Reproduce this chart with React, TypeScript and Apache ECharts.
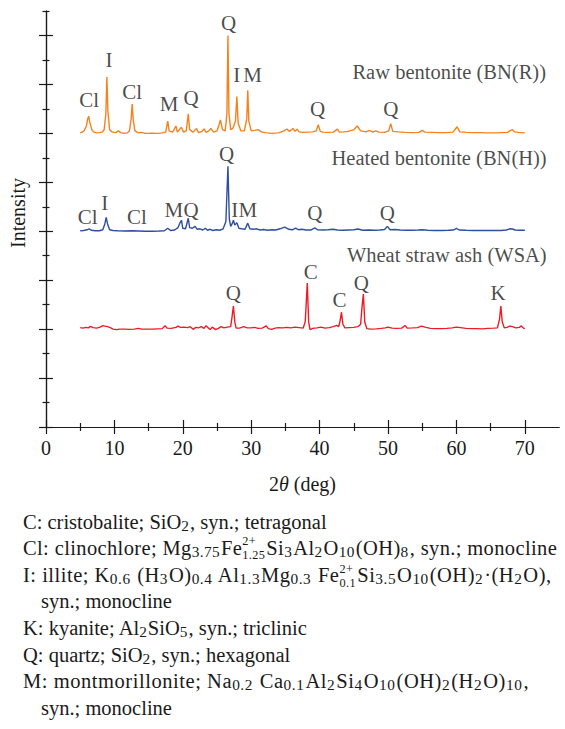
import React, { useEffect, useRef } from "react";
import * as echarts from "echarts";

// ---- data: [2θ (deg), intensity (a.u., offset)] ----
const rawBentonite: number[][] = [
  [5.0,12.02],[5.3,12.05],[5.6,12.12],[5.9,12.3],[6.1,12.6],[6.25,12.7],[6.4,12.45],[6.7,12.15],[7.0,12.05],[7.4,12.02],
  [7.8,12.03],[8.2,12.05],[8.5,12.15],[8.75,12.8],[8.9,14.3],[9.05,12.9],[9.3,12.15],[9.7,12.05],[10.2,12.03],[10.6,12.1],
  [10.9,12.03],[11.4,12.0],[11.9,12.02],[12.2,12.1],[12.45,12.6],[12.6,13.2],[12.75,12.55],[13.0,12.1],[13.5,12.02],[14.0,12.04],
  [14.5,12.0],[15.0,12.0],[15.5,12.01],[16.0,12.0],[16.5,12.0],[17.0,12.02],[17.5,12.05],[17.8,12.5],[18.0,12.1],[18.5,12.05],
  [19.0,12.3],[19.2,12.05],[19.8,12.25],[20.1,12.05],[20.5,12.1],[20.8,12.8],[21.0,12.15],[21.5,12.05],[22.0,12.2],[22.3,12.03],
  [22.8,12.08],[23.1,12.18],[23.4,12.04],[23.8,12.1],[24.1,12.2],[24.5,12.05],[25.0,12.1],[25.3,12.35],[25.5,12.55],[25.8,12.15],
  [26.2,12.1],[26.45,12.8],[26.6,16.0],[26.75,12.8],[27.0,12.15],[27.3,12.2],[27.7,12.5],[27.9,13.5],[28.1,12.4],[28.5,12.1],
  [29.0,12.1],[29.35,12.6],[29.5,13.76],[29.65,12.5],[30.0,12.1],[30.5,12.12],[31.0,12.15],[31.5,12.06],[32.0,12.03],[33.0,12.0],
  [34.0,12.02],[34.8,12.1],[35.2,12.18],[35.6,12.08],[36.1,12.2],[36.4,12.08],[36.7,12.17],[37.0,12.06],[37.5,12.04],[38.2,12.05],
  [39.0,12.06],[39.5,12.1],[39.8,12.35],[40.1,12.08],[40.5,12.05],[41.2,12.04],[42.0,12.05],[42.6,12.17],[42.9,12.05],[43.5,12.06],
  [44.2,12.08],[45.0,12.15],[45.5,12.3],[46.0,12.1],[46.8,12.06],[47.3,12.12],[47.8,12.05],[48.2,12.1],[48.7,12.05],[49.5,12.04],
  [50.1,12.1],[50.4,12.4],[50.7,12.08],[51.5,12.06],[52.5,12.04],[53.5,12.03],[54.5,12.04],[55.0,12.12],[55.4,12.05],[56.5,12.04],
  [57.5,12.03],[58.5,12.03],[59.5,12.05],[60.1,12.27],[60.5,12.06],[61.5,12.04],[62.5,12.03],[63.5,12.03],[64.5,12.02],[65.5,12.02],
  [66.5,12.03],[67.5,12.04],[67.9,12.12],[68.2,12.15],[68.5,12.06],[69.0,12.04],[69.5,12.03],[70.0,12.02]
];

const heatedBentonite: number[][] = [
  [5.0,8.02],[5.5,8.03],[6.0,8.06],[6.3,8.1],[6.6,8.04],[7.2,8.02],[7.8,8.02],[8.3,8.06],[8.6,8.3],[8.8,8.57],
  [9.0,8.3],[9.3,8.06],[9.8,8.03],[10.5,8.02],[11.5,8.01],[12.5,8.02],[13.5,8.01],[14.5,8.0],[15.5,8.0],[16.5,8.01],
  [17.3,8.02],[17.8,8.12],[18.2,8.03],[18.8,8.05],[19.3,8.15],[19.6,8.35],[19.8,8.45],[20.0,8.12],[20.4,8.1],[20.8,8.53],
  [21.0,8.15],[21.4,8.12],[21.8,8.2],[22.1,8.08],[22.5,8.1],[22.9,8.05],[23.3,8.12],[23.6,8.04],[24.0,8.08],[24.4,8.03],
  [24.9,8.06],[25.4,8.04],[25.9,8.1],[26.3,8.4],[26.6,10.65],[26.8,8.5],[27.0,8.2],[27.2,8.3],[27.4,8.45],[27.6,8.25],
  [27.9,8.35],[28.2,8.12],[28.6,8.1],[29.1,8.08],[29.5,8.33],[29.8,8.1],[30.3,8.08],[30.8,8.1],[31.3,8.05],[31.8,8.07],
  [32.4,8.04],[33.0,8.06],[33.6,8.05],[34.2,8.1],[34.9,8.17],[35.5,8.08],[36.0,8.06],[36.5,8.13],[36.9,8.06],[37.4,8.08],
  [38.0,8.05],[38.7,8.05],[39.3,8.14],[39.7,8.06],[40.5,8.05],[41.2,8.06],[42.0,8.08],[42.6,8.05],[43.4,8.04],[44.2,8.05],
  [45.0,8.06],[45.6,8.09],[46.3,8.04],[47.2,8.05],[48.0,8.04],[48.8,8.05],[49.5,8.07],[49.9,8.2],[50.3,8.06],[51.0,8.07],
  [51.8,8.05],[52.6,8.04],[53.5,8.04],[54.4,8.05],[55.0,8.06],[55.8,8.04],[56.8,8.03],[57.8,8.03],[58.8,8.04],[59.6,8.05],
  [60.0,8.12],[60.4,8.05],[61.4,8.04],[62.5,8.03],[63.5,8.03],[64.5,8.03],[65.5,8.03],[66.5,8.03],[67.3,8.05],[67.8,8.1],
  [68.2,8.09],[68.6,8.05],[69.2,8.04],[70.0,8.04]
];

const wheatStrawAsh: number[][] = [
  [5.0,4.06],[5.4,4.04],[5.8,4.07],[6.2,4.05],[6.5,4.11],[6.9,4.06],[7.4,4.04],[7.9,4.08],[8.3,4.14],[8.6,4.12],
  [9.0,4.1],[9.4,4.06],[9.8,4.0],[10.3,3.98],[10.8,4.0],[11.5,4.0],[12.2,3.99],[12.9,4.0],[13.5,4.03],[14.0,4.0],
  [14.8,4.0],[15.6,4.0],[16.3,4.01],[17.0,4.02],[17.4,4.14],[17.7,4.04],[18.3,4.03],[19.0,4.07],[19.3,4.12],[19.7,4.07],
  [20.2,4.08],[20.7,4.06],[21.1,4.1],[21.5,3.99],[21.9,4.07],[22.3,4.05],[22.7,4.1],[23.1,4.03],[23.4,4.14],[23.7,4.06],
  [24.0,3.98],[24.3,4.08],[24.8,3.98],[25.2,4.03],[25.6,4.1],[26.0,4.05],[26.5,4.08],[27.0,4.1],[27.2,4.5],[27.4,4.94],
  [27.6,4.3],[27.8,4.04],[28.3,4.04],[28.9,4.1],[29.4,4.05],[29.9,4.05],[30.5,4.07],[31.0,4.03],[31.6,4.04],[32.2,4.13],
  [32.5,4.02],[33.0,3.99],[33.5,4.04],[34.0,4.06],[34.6,4.05],[35.2,4.07],[35.8,4.05],[36.4,4.08],[37.0,4.06],[37.6,4.04],
  [37.9,4.3],[38.2,5.88],[38.4,4.3],[38.6,3.98],[39.0,4.03],[39.6,4.05],[40.2,4.08],[40.8,4.04],[41.4,4.06],[42.0,4.1],
  [42.5,4.15],[42.8,4.1],[43.0,4.35],[43.2,4.69],[43.4,4.2],[43.7,4.05],[44.3,4.06],[45.0,4.07],[45.6,4.1],[46.0,4.2],
  [46.2,4.9],[46.4,5.43],[46.6,4.3],[46.9,4.02],[47.5,4.0],[48.3,4.01],[49.0,4.03],[49.6,4.05],[50.0,4.08],[50.6,4.04],
  [51.3,4.03],[52.0,4.04],[52.5,4.15],[52.8,4.04],[53.6,4.05],[54.3,4.06],[54.9,4.12],[55.4,4.08],[56.2,4.03],[57.0,4.02],
  [57.8,4.02],[58.6,4.03],[59.4,4.05],[60.0,4.08],[60.6,4.06],[61.4,4.03],[62.2,4.02],[63.0,4.02],[63.8,4.01],[64.6,4.03],
  [65.4,4.04],[66.0,4.05],[66.3,4.4],[66.5,4.94],[66.7,4.3],[67.0,4.05],[67.4,4.07],[67.8,4.12],[68.2,4.1],[68.7,4.05],
  [69.2,4.07],[69.5,4.13],[69.8,4.04],[70.0,4.02]
];

// peak labels: [2θ, intensity, phase]
const rawPeakLabels: (number | string)[][] = [
  [6.3,13.35,"Cl"],[9.2,14.98,"I"],[12.6,13.7,"Cl"],[18.0,13.2,"M"],[21.2,13.45,"Q"],
  [26.7,16.5,"Q"],[27.9,14.37,"I"],[30.2,14.37,"M"],[39.7,12.98,"Q"],[50.4,12.98,"Q"]
];
const heatedPeakLabels: (number | string)[][] = [
  [6.1,8.6,"Cl"],[8.6,9.14,"I"],[13.3,8.57,"Cl"],[18.7,8.86,"M"],[21.2,8.86,"Q"],
  [26.4,11.14,"Q"],[27.6,8.86,"I"],[29.5,8.86,"M"],[39.3,8.73,"Q"],[49.9,8.73,"Q"]
];
const ashPeakLabels: (number | string)[][] = [
  [27.4,5.47,"Q"],[38.7,6.33,"C"],[42.9,5.18,"C"],[46.1,5.88,"Q"],[66.1,5.47,"K"]
];
const sampleNames: (number | string)[][] = [
  [73.1,14.49,"Raw bentonite (BN(R))"],
  [73.2,10.98,"Heated bentonite (BN(H))"],
  [73.2,7.02,"Wheat straw ash (WSA)"]
];

const xMajorTicks = [0, 10, 20, 30, 40, 50, 60, 70];
const xMinorTicks = [5, 15, 25, 35, 45, 55, 65];
const yMajorTicks = [0, 2, 4, 6, 8, 10, 12, 14, 16];
const yMinorTicks = [1, 3, 5, 7, 9, 11, 13, 15, 17];

const FONT = "'Liberation Serif', 'DejaVu Serif', serif";
const INK = "#1a1a1a";

const Sub = ({ c }: { c: string }) => (
  <span style={{ fontSize: "0.75em", position: "relative", top: "0.15em", marginRight: "1px" }}>{c}</span>
);
const Stack = ({ up, down }: { up: string; down: string }) => (
  <span
    style={{
      display: "inline-flex",
      flexDirection: "column",
      fontSize: "0.6em",
      lineHeight: 1.13,
      verticalAlign: "0.75em",
      marginRight: "1px",
    }}
  >
    <span>{up}</span>
    <span>{down}</span>
  </span>
);

const legendTops = [509, 534.5, 562, 588, 615, 641.5, 668, 694.5];

export default function App() {
  const ref = useRef<HTMLDivElement>(null);

  useEffect(() => {
    if (!ref.current) return;
    const chart = echarts.init(ref.current, undefined, { renderer: "svg" });

    const xBase = { type: "value" as const, min: 0, max: 75, splitLine: { show: false } };
    const yBase = { type: "value" as const, min: 0, max: 17, splitLine: { show: false } };
    const line = { show: true, lineStyle: { color: INK, width: 1.2 } };

    const labelSeries = (data: (number | string)[][], extra: any = {}) => ({
      type: "scatter",
      data,
      symbolSize: 0,
      silent: true,
      z: 5,
      label: {
        show: true,
        position: "inside",
        formatter: (p: any) => p.value[2],
        fontFamily: FONT,
        fontSize: 21,
        color: INK,
        ...extra,
      },
    });

    chart.setOption({
      animation: false,
      backgroundColor: "#ffffff",
      textStyle: { fontFamily: FONT },
      grid: { left: 46, right: 6, top: 11, bottom: 73 },
      xAxis: [
        {
          ...xBase,
          position: "bottom",
          axisLine: line,
          axisTick: { show: true, length: 7, customValues: xMajorTicks, lineStyle: { color: INK, width: 1.2 } },
          axisLabel: { show: true, customValues: xMajorTicks, fontSize: 20, color: INK, margin: 11, fontFamily: FONT },
          name: "{n|2}{i|θ}{n| (deg)}",
          nameLocation: "middle",
          nameGap: 47,
          nameTextStyle: {
            rich: {
              n: { fontSize: 20, color: INK, fontFamily: FONT },
              i: { fontSize: 20, color: INK, fontFamily: FONT, fontStyle: "italic" },
            },
          },
        },
        {
          ...xBase,
          position: "bottom",
          axisLine: { show: false },
          axisTick: { show: true, length: 4, customValues: xMinorTicks, lineStyle: { color: INK, width: 1.2 } },
          axisLabel: { show: false },
        },
        {
          ...xBase,
          position: "top",
          axisLine: line,
          axisTick: { show: true, length: 7, customValues: xMajorTicks, lineStyle: { color: INK, width: 1.2 } },
          axisLabel: { show: false },
        },
        {
          ...xBase,
          position: "top",
          axisLine: { show: false },
          axisTick: { show: true, length: 4, customValues: xMinorTicks, lineStyle: { color: INK, width: 1.2 } },
          axisLabel: { show: false },
        },
      ],
      yAxis: [
        {
          ...yBase,
          position: "left",
          axisLine: line,
          axisTick: { show: true, length: 7, customValues: yMajorTicks, lineStyle: { color: INK, width: 1.2 } },
          axisLabel: { show: false },
        },
        {
          ...yBase,
          position: "left",
          axisLine: { show: false },
          axisTick: { show: true, length: 3.5, customValues: yMinorTicks, lineStyle: { color: INK, width: 1.2 } },
          axisLabel: { show: false },
        },
        {
          ...yBase,
          position: "right",
          axisLine: line,
          axisTick: { show: true, length: 7, customValues: yMajorTicks, lineStyle: { color: INK, width: 1.2 } },
          axisLabel: { show: false },
        },
        {
          ...yBase,
          position: "right",
          axisLine: { show: false },
          axisTick: { show: true, length: 3.5, customValues: yMinorTicks, lineStyle: { color: INK, width: 1.2 } },
          axisLabel: { show: false },
        },
      ],
      graphic: [
        {
          type: "text",
          x: 18,
          y: 213,
          rotation: Math.PI / 2,
          style: {
            text: "Intensity",
            fontFamily: FONT,
            fontSize: 20,
            fill: INK,
            align: "center",
            verticalAlign: "middle",
          },
        },
      ],
      series: [
        {
          name: "Raw bentonite (BN(R))",
          type: "line",
          data: rawBentonite,
          showSymbol: false,
          lineStyle: { color: "#f5821f", width: 1.4 },
          itemStyle: { color: "#f5821f" },
        },
        {
          name: "Heated bentonite (BN(H))",
          type: "line",
          data: heatedBentonite,
          showSymbol: false,
          lineStyle: { color: "#2e4ea0", width: 1.4 },
          itemStyle: { color: "#2e4ea0" },
        },
        {
          name: "Wheat straw ash (WSA)",
          type: "line",
          data: wheatStrawAsh,
          showSymbol: false,
          lineStyle: { color: "#ec1c24", width: 1.4 },
          itemStyle: { color: "#ec1c24" },
        },
        labelSeries(rawPeakLabels),
        labelSeries(heatedPeakLabels),
        labelSeries(ashPeakLabels),
        labelSeries(sampleNames, { position: "left", distance: 0, fontSize: 20.5 }),
      ],
    });

    return () => chart.dispose();
  }, []);

  const lineStyle = (i: number, spacing: number, indent = false): React.CSSProperties => ({
    position: "absolute",
    left: indent ? 41 : 23,
    top: legendTops[i],
    height: 26,
    lineHeight: "26px",
    whiteSpace: "nowrap",
    fontFamily: FONT,
    fontSize: 20.5,
    letterSpacing: `${spacing}px`,
    color: INK,
  });

  return (
    <div style={{ position: "absolute", left: 0, top: 0, width: 565, height: 729, background: "#fff" }}>
      <div ref={ref} style={{ position: "absolute", left: 0, top: 0, width: 565, height: 500 }} />
      <div style={lineStyle(0, 0)}>
        C: cristobalite; SiO<Sub c="2" />, syn.; tetragonal
      </div>
      <div style={lineStyle(1, 0.37)}>
        Cl: clinochlore; Mg<Sub c="3.75" />Fe<Stack up="2+" down="1.25" />Si<Sub c="3" />Al<Sub c="2" />O<Sub c="10" />(OH)<Sub c="8" />, syn.; monocline
      </div>
      <div style={lineStyle(2, 0.5)}>
        I: illite; K<Sub c="0.6" /> (H<Sub c="3" />O)<Sub c="0.4" /> Al<Sub c="1.3" />Mg<Sub c="0.3" /> Fe<Stack up="2+" down="0.1" />Si<Sub c="3.5" />O<Sub c="10" />(OH)<Sub c="2" />·(H<Sub c="2" />O),
      </div>
      <div style={lineStyle(3, 0, true)}>syn.; monocline</div>
      <div style={lineStyle(4, 0)}>
        K: kyanite; Al<Sub c="2" />SiO<Sub c="5" />, syn.; triclinic
      </div>
      <div style={lineStyle(5, 0)}>
        Q: quartz; SiO<Sub c="2" />, syn.; hexagonal
      </div>
      <div style={lineStyle(6, 0.55)}>
        M: montmorillonite; Na<Sub c="0.2" /> Ca<Sub c="0.1" />Al<Sub c="2" />Si<Sub c="4" />O<Sub c="10" />(OH)<Sub c="2" />(H<Sub c="2" />O)<Sub c="10" />,
      </div>
      <div style={lineStyle(7, 0, true)}>syn.; monocline</div>
    </div>
  );
}
